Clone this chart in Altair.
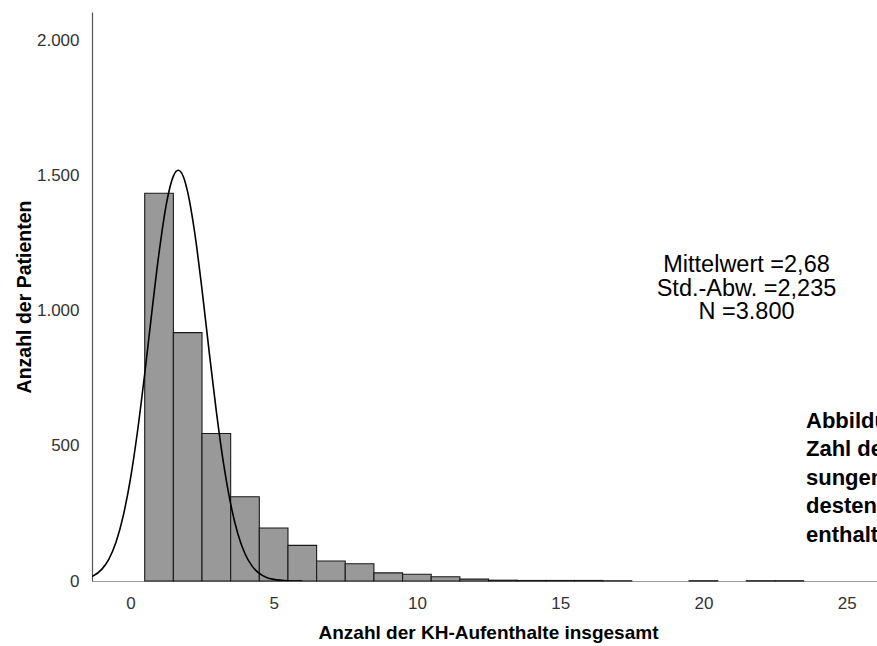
import altair as alt
import pandas as pd

# ---- data ----
bin_centers = [1, 2, 3, 4, 5, 6, 7, 8, 9, 10, 11, 12, 13, 14, 15, 16, 17, 20, 22, 23]
counts = [1435, 919, 546, 312, 196, 132, 74, 64, 30, 25, 16, 7, 3, 2, 2, 2, 1, 1, 1, 1]

curve_x = [-1.34, -1.0, -0.75, -0.5, -0.25, 0.0, 0.25, 0.5, 0.75, 1.0, 1.25, 1.5, 1.67,
           1.85, 2.0, 2.25, 2.5, 2.75, 3.0, 3.25, 3.5, 3.75, 4.0, 4.25, 4.5, 4.75, 5.0, 5.5, 6.0]
curve_y = [16, 43, 81, 144, 241, 377, 555, 767, 996, 1214, 1392, 1498, 1520,
           1496, 1439, 1285, 1078, 848, 628, 436, 285, 175, 101, 55, 28, 13, 6, 1, 0]

x_ticks = [0, 5, 10, 15, 20, 25]
y_ticks = [0, 500, 1000, 1500, 2000]

x_title = "Anzahl der KH-Aufenthalte insgesamt"
y_title = "Anzahl der Patienten"
stats_lines = ["Mittelwert =2,68", "Std.-Abw. =2,235", "N =3.800"]
caption_lines = ["Abbildung", "Zahl der", "sungen", "destens", "enthalte"]

# ---- tables ----
bars_df = pd.DataFrame({"center": bin_centers, "count": counts})
bars_df["x0"] = bars_df["center"] - 0.5
bars_df["x1"] = bars_df["center"] + 0.5
bars_df["base"] = 0
curve_df = pd.DataFrame({"x": curve_x, "y": curve_y})

W, H = 785, 569
xscale = alt.Scale(domain=[-1.34, 26.06], nice=False, zero=False)
yscale = alt.Scale(domain=[0, 2105.5], nice=False, zero=True)

LABEL_FONT = "Liberation Sans Narrow, Arial Narrow, Liberation Sans, Arial"
TITLE_FONT = "Liberation Sans, Arial"

x_axis = alt.Axis(
    values=x_ticks, ticks=False, grid=False,
    labelFont=LABEL_FONT, labelFontSize=17, labelColor="#333333", labelPadding=14,
    domainColor="#999999", domainWidth=1.2,
    title=x_title, titleFont=TITLE_FONT, titleFontSize=19, titleFontWeight="bold",
    titleColor="#000000", titleBaseline="alphabetic", titleY=57, titleX=396,
)
y_axis = alt.Axis(
    values=y_ticks, ticks=False, grid=False,
    labelExpr="replace(format(datum.value, ','), ',', '.')",
    labelFont=LABEL_FONT, labelFontSize=17, labelColor="#333333", labelPadding=13,
    domainColor="#555555", domainWidth=1.2,
    title=y_title, titleFont=TITLE_FONT, titleFontSize=19.5, titleFontWeight="bold",
    titleColor="#000000", titleAngle=-90, titleBaseline="alphabetic", titleX=-62,
)

bars = alt.Chart(bars_df).mark_rect(
    fill="#999999", stroke="#1a1a1a", strokeWidth=1.1
).encode(
    x=alt.X("x0:Q", scale=xscale, axis=x_axis),
    x2="x1:Q",
    y=alt.Y("count:Q", scale=yscale, axis=y_axis),
    y2="base:Q",
)

curve = alt.Chart(curve_df).mark_line(
    color="#000000", strokeWidth=1.6, interpolate="monotone", clip=True
).encode(
    x=alt.X("x:Q", scale=xscale),
    y=alt.Y("y:Q", scale=yscale),
)

stats = alt.Chart(pd.DataFrame({"k": [0]})).mark_text(
    text=stats_lines, font=TITLE_FONT, fontSize=23.5, lineHeight=23.6,
    align="center", baseline="alphabetic", color="#000000",
).encode(x=alt.value(654.5), y=alt.value(260.3))

caption = alt.Chart(pd.DataFrame({"k": [0]})).mark_text(
    text=caption_lines, font=TITLE_FONT, fontSize=22, fontWeight="bold", lineHeight=28.4,
    align="left", baseline="alphabetic", color="#000000",
).encode(x=alt.value(714), y=alt.value(416))

chart = alt.layer(bars, curve, stats, caption).properties(
    width=W, height=H,
    autosize=alt.AutoSizeParams(type="none"),
    padding={"left": 92, "top": 12, "right": 0, "bottom": 65},
    background="#ffffff",
).configure_view(stroke=None)

chart.save("out.html", embed_options={"renderer": "svg", "actions": False})
